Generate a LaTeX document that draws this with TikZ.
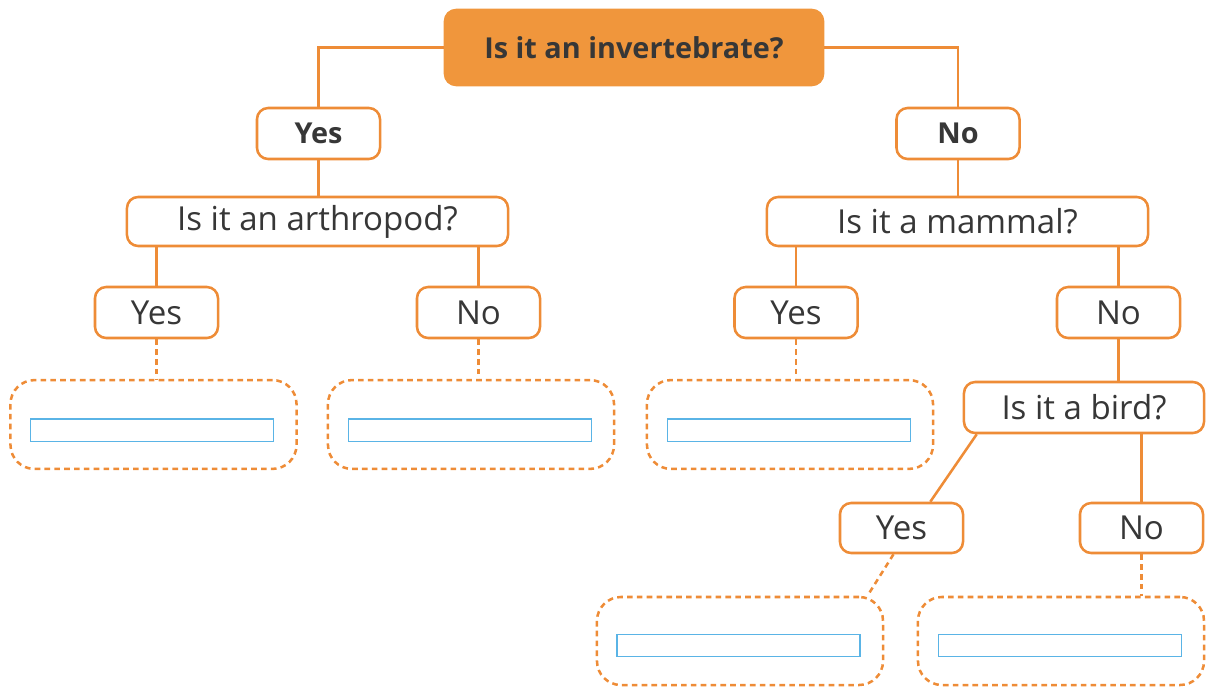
\documentclass[tikz,border=0pt]{standalone}
\usepackage{fontspec}
\setmainfont{Open Sans}
\usepackage{xcolor}
\definecolor{keyOrange}{RGB}{240, 150, 60}
\definecolor{keyLine}{RGB}{238, 140, 55}
\definecolor{keyBlue}{RGB}{90, 180, 230}
\definecolor{keyText}{RGB}{55, 55, 55}

\begin{document}
\begin{tikzpicture}[x=0.025cm, y=-0.025cm,
    link/.style={line width=1.8pt, keyLine},
    dlink/.style={line width=1.8pt, keyLine, dash pattern=on 4pt off 3pt},
    qbox/.style={draw=keyLine, line width=1.8pt, rounded corners=0.28cm, fill=white,
        text=keyText, inner sep=0pt, minimum height=1.275cm, font=\fontsize{23.5}{28}\selectfont},
    boldtext/.style={font=\fontsize{20.5}{25}\selectfont\bfseries},
    topbox/.style={qbox, boldtext, fill=keyOrange, draw=keyOrange, minimum width=9.45cm, minimum height=1.875cm},
    ansbox/.style={draw=keyLine, line width=1.8pt, dash pattern=on 4pt off 3pt, rounded corners=0.6cm,
        minimum width=7.15cm, minimum height=2.22cm, inner sep=0pt},
    blank/.style={draw=keyBlue, line width=1pt, minimum width=6.08cm, minimum height=0.56cm, inner sep=0pt}]

    \useasboundingbox (0,0) rectangle (1206,686);

    \node[topbox] (top) at (634,47.5) {Is it an invertebrate?};
    \node[qbox, boldtext, minimum width=3.075cm] (yes1) at (318.5,133.5) {Yes};
    \node[qbox, boldtext, minimum width=3.075cm] (no1) at (958,133.5) {No};

    \node[qbox, minimum width=9.525cm, minimum height=1.225cm] (arth) at (317.5,221.5) {Is it an arthropod?};
    \node[qbox, minimum width=9.525cm, minimum height=1.225cm] (mamm) at (957.5,221.5) {Is it a mammal?};

    \node[qbox, minimum width=3.075cm] (yes2) at (156.5,312.5) {Yes};
    \node[qbox, minimum width=3.075cm] (no2) at (478.5,312.5) {No};
    \node[qbox, minimum width=3.075cm] (yes3) at (796,312.5) {Yes};
    \node[qbox, minimum width=3.075cm] (no3) at (1118.5,312.5) {No};

    \node[qbox, minimum width=6cm] (bird) at (1084,407.5) {Is it a bird?};
    \node[qbox, minimum width=3.075cm, minimum height=1.25cm] (yes4) at (901.5,528) {Yes};
    \node[qbox, minimum width=3.075cm, minimum height=1.25cm] (no4) at (1141.5,528) {No};

    \node[ansbox] (ans1) at (153.5,424.5) {};
    \node[ansbox] (ans2) at (471,424.5) {};
    \node[ansbox] (ans3) at (790,424.5) {};
    \node[ansbox, minimum height=2.2cm] (ans4) at (740,641) {};
    \node[ansbox, minimum height=2.2cm] (ans5) at (1061,641) {};

    \node[blank] (blank1) at (152,430) {};
    \node[blank] (blank2) at (470,430) {};
    \node[blank] (blank3) at (789,430) {};
    \node[blank] (blank4) at (738.5,645.5) {};
    \node[blank] (blank5) at (1060,645.5) {};

    \draw[link] (top.west) -| (yes1.north);
    \draw[link] (top.east) -| (no1.north);
    \draw[link] (yes1.south) -- (arth.north -| yes1.south);
    \draw[link] (no1.south) -- (mamm.north -| no1.south);
    \draw[link] (arth.south -| yes2.north) -- (yes2.north);
    \draw[link] (arth.south -| no2.north) -- (no2.north);
    \draw[link] (mamm.south -| yes3.north) -- (yes3.north);
    \draw[link] (mamm.south -| no3.north) -- (no3.north);
    \draw[link] (no3.south) -- (bird.north -| no3.south);
    \draw[link] ([xshift=0.35cm]bird.south west) -- ([xshift=0.72cm]yes4.north);
    \draw[link] (bird.south -| no4.north) -- (no4.north);

    \draw[dlink] (yes2.south) -- (ans1.north -| yes2.south);
    \draw[dlink] (no2.south) -- (ans2.north -| no2.south);
    \draw[dlink] (yes3.south) -- (ans3.north -| yes3.south);
    \draw[dlink] ([xshift=-0.2cm]yes4.south) -- ([xshift=-0.42cm]ans4.north east);
    \draw[dlink] (no4.south) -- (ans5.north -| no4.south);
\end{tikzpicture}
\end{document}
